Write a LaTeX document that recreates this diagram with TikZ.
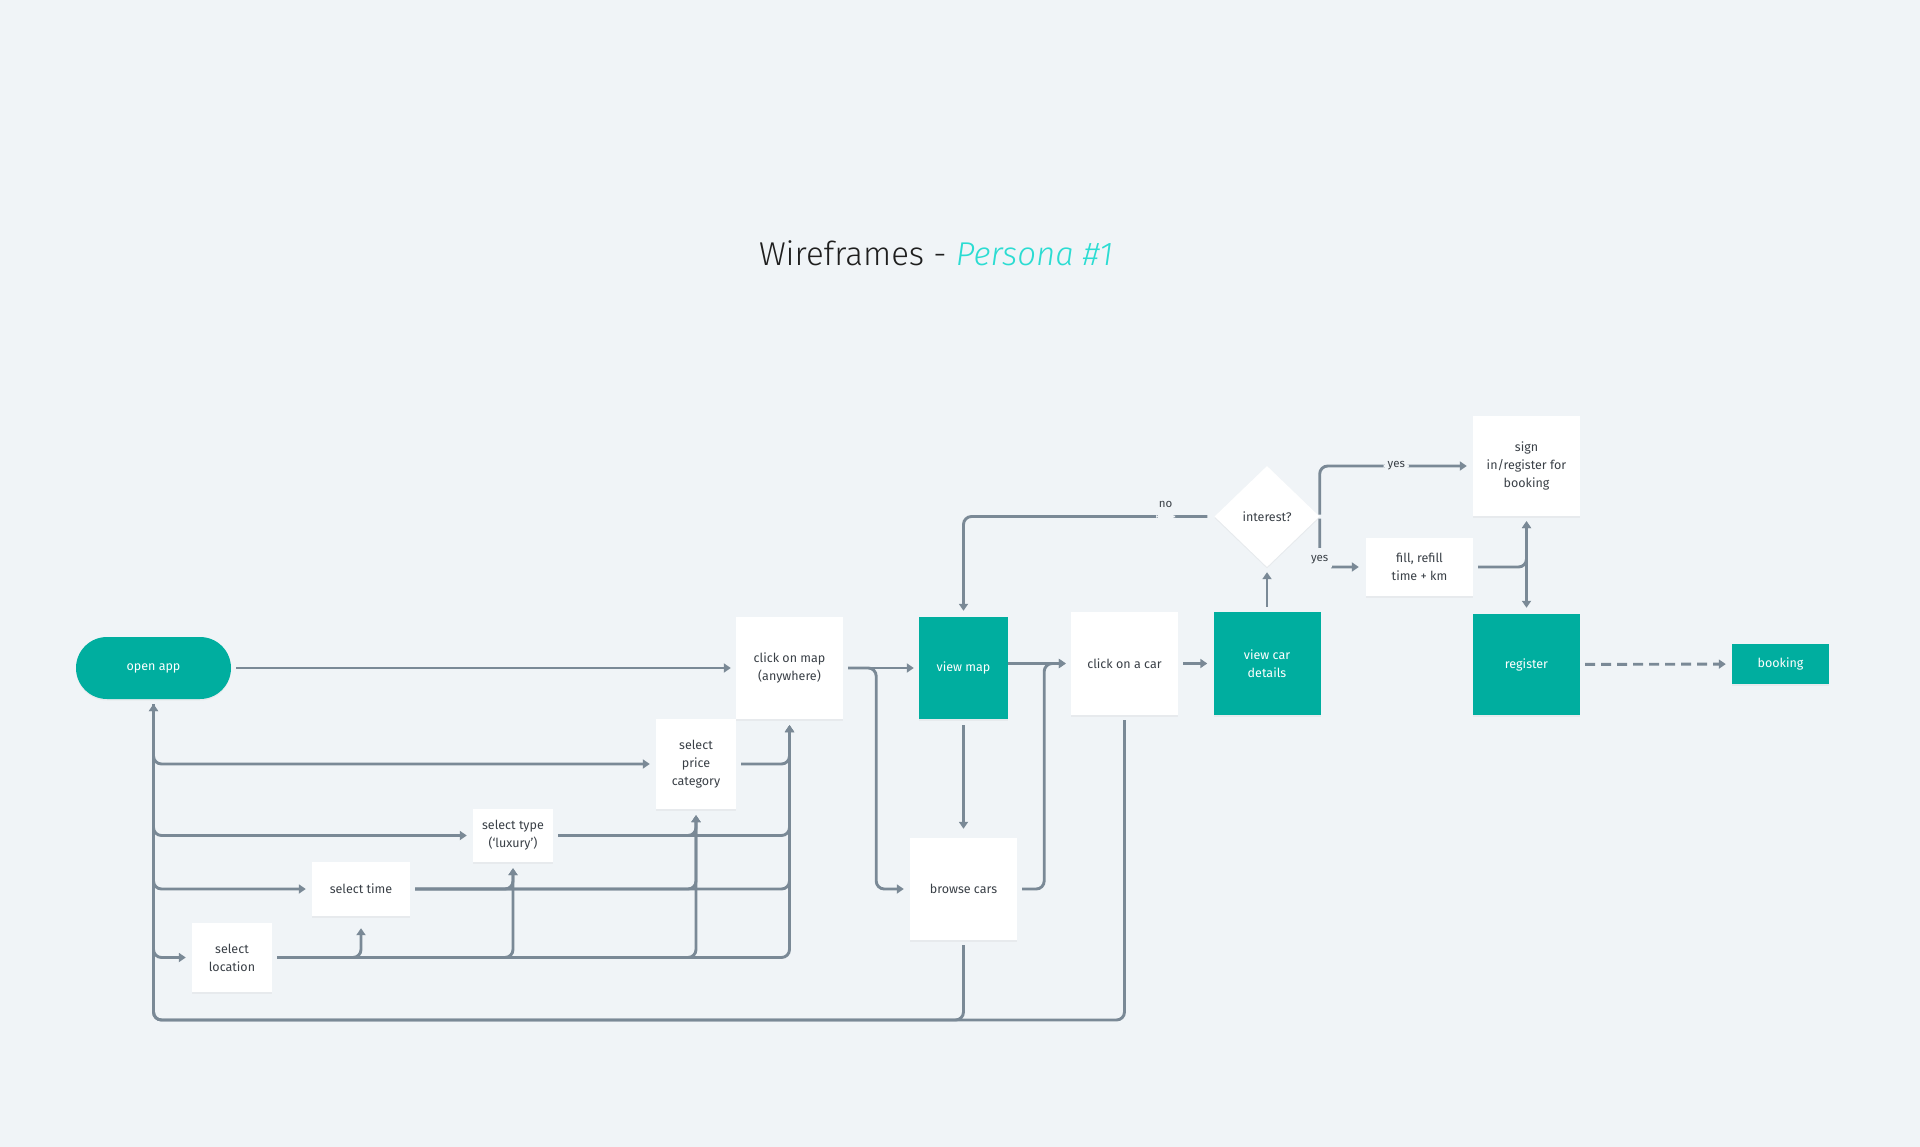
\documentclass[tikz,border=0pt]{standalone}
\usepackage{fontspec}
\setmainfont{Fira Sans}
\newfontfamily\titlefont{Fira Sans Light}[ItalicFont={Fira Sans Light Italic}]
\usetikzlibrary{arrows.meta,shapes.geometric,shadows}
\definecolor{bgc}{HTML}{F0F4F7}
\definecolor{tealc}{HTML}{00AE9F}
\definecolor{linec}{HTML}{7A8996}
\definecolor{txtc}{HTML}{3A4047}
\definecolor{cyanc}{HTML}{2BDCD2}
\begin{document}
\begin{tikzpicture}[x=1pt,y=-1pt,
  box/.style={rectangle, fill=white, text=txtc, align=center, inner sep=0pt,
    font=\fontsize{12.5}{18}\selectfont,
    drop shadow={opacity=0.08, shadow xshift=0pt, shadow yshift=-1.5pt}},
  tbox/.style={box, fill=tealc, text=white},
  conn/.style={draw=linec, line width=2.9pt, rounded corners=8pt,
    shorten <=5pt, shorten >=5pt, -{Triangle[length=7pt,width=9pt]}},
  lbl/.style={fill=bgc, text=txtc, inner xsep=4pt, inner ysep=1pt,
    font=\fontsize{11.5}{13}\selectfont},
]
\fill[bgc] (0,0) rectangle (1920,1147);
\useasboundingbox (0,0) rectangle (1920,1147);

% title
\node[anchor=base, inner sep=0pt, font=\titlefont\fontsize{33}{40}\selectfont] (title) at (936,266)
  {\textcolor{black!88}{Wireframes -} \textcolor{cyanc}{\itshape Persona \#1}};

% nodes
\node[tbox, minimum width=155pt, minimum height=62pt, rounded corners=31pt] (openapp) at (153.5,668) {open app};
\node[box, minimum width=107pt, minimum height=102pt] (clickmap) at (789.5,668) {click on map\\(anywhere)};
\node[box, minimum width=80pt, minimum height=90pt] (price) at (696,764) {select\\price\\category};
\node[box, minimum width=80pt, minimum height=53pt] (type) at (513,835.5) {select type\\(`luxury')};
\node[box, minimum width=98pt, minimum height=54pt] (time) at (361,889) {select time};
\node[box, minimum width=80pt, minimum height=69pt] (location) at (232,957.5) {select\\location};
\node[tbox, minimum width=89pt, minimum height=102pt] (viewmap) at (963.5,668) {view map};
\node[box, minimum width=107pt, minimum height=102pt] (browse) at (963.5,889) {browse cars};
\node[box, minimum width=107pt, minimum height=103pt] (clickcar) at (1124.5,663.5) {click on a car};
\node[tbox, minimum width=107pt, minimum height=103pt] (details) at (1267,663.5) {view car\\details};
\node[diamond, fill=white, text=txtc, inner sep=0pt, minimum width=105pt, minimum height=101pt,
  font=\fontsize{12.5}{18}\selectfont,
  drop shadow={opacity=0.08, shadow xshift=0pt, shadow yshift=-1.5pt}] (interest) at (1267,516.5) {interest?};
\node[box, minimum width=107pt, minimum height=58pt] (fill) at (1419.5,567) {fill, refill\\time + km};
\node[box, minimum width=107pt, minimum height=100pt] (signin) at (1526.5,466) {sign\\in/register for\\booking};
\node[tbox, minimum width=107pt, minimum height=101pt] (register) at (1526.5,664.5) {register};
\node[tbox, minimum width=97pt, minimum height=40pt] (booking) at (1780.5,664) {booking};

% connectors
\coordinate (bot) at (0,1020);
\draw[conn] (openapp) -- (clickmap);
\draw[conn] (clickcar.south) -- (clickcar.south |- bot) -| (openapp.south);
\draw[conn] (browse.south) |- (openapp.south |- bot) -- (openapp.south);
\foreach \t in {price,type,time,location}
  \draw[conn, shorten >=6pt] (openapp.south) |- (\t.west);

\draw[conn, shorten >=12pt] (location.east) -| (time.south);
\draw[conn, shorten >=6pt] (location.east) -| (type.south);
\draw[conn, shorten >=6pt] (location.east) -| (price.south);
\draw[conn, shorten >=6pt] (location.east) -| (clickmap.south);
\draw[conn, shorten >=6pt] (time.east) -| (type.south);
\draw[conn, shorten >=6pt] (time.east) -| (price.south);
\draw[conn, shorten >=6pt] (time.east) -| (clickmap.south);
\draw[conn, shorten >=6pt] (type.east) -| (price.south);
\draw[conn, shorten >=6pt] (type.east) -| (clickmap.south);
\draw[conn, shorten >=6pt] (price.east) -| (clickmap.south);

\draw[conn] (clickmap) -- (viewmap);
\draw[conn, shorten >=6pt] (clickmap.east) -- ([xshift=33pt]clickmap.east) |- (browse.west);
\draw[conn, shorten <=6pt, shorten >=9pt] (viewmap) -- (browse);
\draw[conn, shorten <=0pt] (viewmap.east |- clickcar.west) -- (clickcar.west);
\draw[conn] (browse.east) -- ([xshift=27pt]browse.east) |- (clickcar.west);
\draw[conn, shorten >=6pt] (clickcar) -- (details);
\draw[conn] (details) -- (interest);

\draw[conn, shorten <=7pt, shorten >=6pt] (interest.west) -|
  node[pos=0.097, fill=bgc, inner sep=0pt, minimum width=19pt, minimum height=9pt,
    label={[text=txtc, inner sep=0pt, label distance=1pt, font=\fontsize{11.5}{13}\selectfont]above:no}] {}
  (viewmap.north);
\draw[conn, shorten <=2pt, shorten >=6pt] (interest.east) |- node[lbl, pos=0.75] {yes} (signin.west);
\draw[conn, shorten <=2pt, shorten >=7pt] (interest.east) |-
  node[lbl, pos=0.5, yshift=7pt, minimum width=24pt, minimum height=24pt] {yes} (fill.west);

\draw[conn] (fill.east) -| (signin.south);
\draw[conn, shorten >=6pt, {Triangle[length=7pt,width=9pt]}-{Triangle[length=7pt,width=9pt]}] (signin) -- (register);
\draw[conn, shorten >=6pt, dash pattern=on 10pt off 6pt] (register) -- (booking);
\end{tikzpicture}
\end{document}
